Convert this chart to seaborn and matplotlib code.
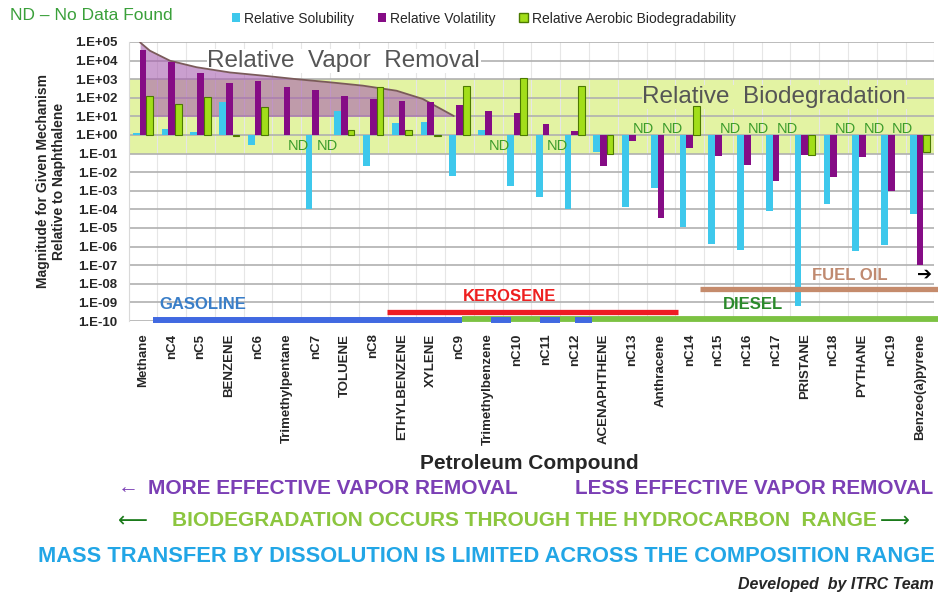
import numpy as np
import pandas as pd
import matplotlib
matplotlib.use("Agg")
import matplotlib.pyplot as plt
from matplotlib.patches import Patch
from matplotlib import font_manager
import seaborn as sns

# datos del grafico
compounds = ["Methane", "nC4", "nC5", "BENZENE", "nC6", "Trimethylpentane", "nC7",
             "TOLUENE", "nC8", "ETHYLBENZENE", "XYLENE", "nC9", "Trimethylbenzene",
             "nC10", "nC11", "nC12", "ACENAPHTHENE", "nC13", "Anthracene", "nC14",
             "nC15", "nC16", "nC17", "PRISTANE", "nC18", "PYTHANE", "nC19",
             "Benzeo(a)pyrene"]
solubility = [1.3, 2.1, 1.4, 62, 0.3, 1.0, 1.0e-4, 20, 0.022, 4.5, 5.0, 0.006,
              1.9, 0.0019, 4.5e-4, 1.1e-4, 0.12, 1.4e-4, 0.0015, 1.1e-5,
              1.4e-6, 6.5e-7, 8.5e-5, 6.5e-10, 1.9e-4, 5.6e-7, 1.2e-6, 5.6e-5]
volatility = [3.9e4, 8.1e3, 2.15e3, 600, 830, 365, 260, 130, 87, 70, 57, 41,
              19, 15, 3.9, 1.6, 0.022, 0.49, 3.4e-5, 0.2, 0.071, 0.025, 0.0035,
              0.084, 0.0057, 0.068, 9.3e-4, 1.0e-7]
nan = np.nan
biodegradability = [130, 46, 115, 0.87, 33, nan, nan, 1.9, 365, 1.9, 0.87, 415,
                    nan, 1120, nan, 415, 0.095, nan, nan, 35, nan, nan, nan,
                    0.084, nan, nan, nan, 0.117]
mechanisms = ["Relative Solubility", "Relative Volatility",
              "Relative Aerobic Biodegradability"]

# envolvente de remocion de vapor (posicion de categoria, magnitud)
vapor_env_pos = [-0.1, 0.24, 0.94, 1.86, 3.02, 4.17, 5.34, 6.5, 7.64, 8.81, 9.72, 10.8]
vapor_env = [9.5e4, 3.4e4, 9.8e3, 4.4e3, 2.3e3, 1.55e3, 1.0e3, 680, 450, 240, 87, 10.5]

# rangos de combustibles (en unidades de categoria)
gasoline_ranges = [(0.35, 11.1), (12.1, 12.8), (13.8, 14.5), (15.0, 15.6)]
kerosene_range = (8.47, 18.6)
diesel_range = (11.1, 27.75)
fuel_oil_range = (19.35, 27.75)

decades = list(range(-10, 6))

cyan, purple, green = "#3ec8ec", "#850c85", "#a2de1a"
band_color = "#e3f3a3"

sns.set_style("white")
available = {f.name for f in font_manager.fontManager.ttflist}
narrow = "Liberation Sans Narrow" if "Liberation Sans Narrow" in available else "Liberation Sans"
plt.rcParams["font.family"] = ["Liberation Sans", "DejaVu Sans"]

fig = plt.figure(figsize=(9.38, 5.99), dpi=100)
ax = fig.add_axes([0.1371, 0.4641, 0.859, 0.4658])

n = len(compounds)
df = pd.DataFrame({
    "compound": compounds * 3,
    "mechanism": np.repeat(mechanisms, n),
    "value": solubility + volatility + biodegradability,
})
df["log_value"] = np.log10(df["value"])

sns.barplot(data=df, x="compound", y="log_value", hue="mechanism", order=compounds,
            hue_order=mechanisms, palette=[cyan, purple, green], width=0.7,
            errorbar=None, saturation=1, legend=False, ax=ax)

for i, cont in enumerate(ax.containers):
    for bar in cont:
        bar.set_zorder(3)
        if i == 2:
            bar.set_edgecolor("#4c7a00")
            bar.set_linewidth(0.8)
        else:
            bar.set_linewidth(0)

ax.set_ylim(-10, 5)
ax.set_xlim(-0.5, n - 0.5)

# banda de biodegradacion
ax.axhspan(-1, 3, color=band_color, lw=0, zorder=0.3)

# poligono de remocion de vapor
env_log = np.log10(vapor_env)
ax.fill_between(vapor_env_pos, 1, env_log, color="#a860b0", alpha=0.6, lw=0, zorder=1)
ax.plot(vapor_env_pos, env_log, color="#7a5a5a", lw=1.3, zorder=1.1)

ax.text(6.98, 3.98, "Relative  Vapor  Removal", fontsize=17.5, color="#555555",
        ha="center", va="center", zorder=0.8,
        bbox=dict(facecolor="white", edgecolor="none", pad=0.5))
ax.text(21.94, 2.04, "Relative  Biodegradation", fontsize=17.5, color="#555555",
        ha="center", va="center", zorder=0.8,
        bbox=dict(facecolor=band_color, edgecolor="none", pad=0.5))

# ND
for i, (b, v) in enumerate(zip(biodegradability, volatility)):
    if np.isnan(b):
        y = -0.6 if v >= 1 else 0.3
        ax.text(i + 0.4, y, "ND", color="#3c9c2c", fontsize=10.5,
                ha="center", va="center", zorder=4)

# rangos de combustible
ax.hlines(-9.88, *diesel_range, color="#7cc242", lw=4.2, clip_on=False, zorder=4)
for a, b in gasoline_ranges:
    ax.hlines(-9.95, a, b, color="#4169e1", lw=4.3, clip_on=False, zorder=4.1)
ax.hlines(-9.5, *kerosene_range, color="#ee1c24", lw=3.8, zorder=4)
ax.hlines(-8.3, *fuel_oil_range, color="#c58b6c", lw=3.8, clip_on=False, zorder=4)
ax.text(2.08, -9.09, "GASOLINE", color="#3a7ec8", fontsize=12, weight="bold",
        ha="center", va="center")
ax.text(12.74, -8.66, "KEROSENE", color="#ee2020", fontsize=12, weight="bold",
        ha="center", va="center")
ax.text(21.2, -9.09, "DIESEL", color="#2b8a2b", fontsize=12, weight="bold",
        ha="center", va="center")
ax.text(24.55, -7.53, "FUEL OIL", color="#c08a70", fontsize=12, weight="bold",
        ha="center", va="center")
ax.text(27.15, -7.53, "\u2794", color="black", fontsize=13,
        ha="center", va="center", clip_on=False, family=["DejaVu Sans"])

# ejes
ax.set_yticks(decades)
ax.set_yticklabels([f"1.E{k:+03d}" for k in decades], fontsize=9.5, weight="bold")
ax.set_xticks(range(n))
ax.set_xticklabels(compounds, rotation=90, fontsize=9.5, weight="bold")
ax.set_xticks(np.arange(-0.5, n), minor=True)
ax.tick_params(axis="x", which="both", length=0, pad=9)
ax.tick_params(axis="y", length=3, width=1, color="#b4b4b4", pad=5)
ax.grid(axis="y", which="major", color="#b0b0b0", lw=1.2)
ax.grid(axis="x", which="minor", color="#e6e6e6", lw=0.8)
ax.set_axisbelow(True)
for s in ["top", "right", "bottom"]:
    ax.spines[s].set_visible(False)
ax.spines["left"].set_color("#d9d9d9")

ax.set_ylabel("Magnitude for Given Mechanism\nRelative to Naphthalene",
              fontsize=10, weight="bold")
ax.yaxis.set_label_coords(-0.078, 0.5)
ax.set_xlabel("Petroleum Compound", fontsize=15, weight="bold")
ax.xaxis.set_label_coords(0.497, -0.475)

# leyenda
handles = [Patch(facecolor=cyan, edgecolor="none"),
           Patch(facecolor=purple, edgecolor="none"),
           Patch(facecolor=green, edgecolor="#4c7a00")]
fig.legend(handles, mechanisms, loc="upper left", bbox_to_anchor=(226 / 938, 1 - 6 / 599),
           ncol=3, frameon=False, fontsize=10, handlelength=0.6, handleheight=0.6,
           handletextpad=0.3, columnspacing=1.7, borderaxespad=0)
fig.text(10 / 938, 1 - 15 / 599, "ND \u2013 No Data Found", color="#3aa03a",
         fontsize=12.5, va="center")

# textos inferiores
def fit_width(txt, width_px):
    r = fig.canvas.get_renderer()
    w = txt.get_window_extent(r).width
    txt.set_fontsize(txt.get_fontsize() * width_px / w)

vfam = [narrow, "DejaVu Sans"]
fig.text(118 / 938, 1 - 488 / 599, "\u2190", color="#7b3fb5", fontsize=15,
         weight="bold", va="center")
t = fig.text(148 / 938, 1 - 488 / 599, "MORE EFFECTIVE VAPOR REMOVAL", color="#7b3fb5",
             fontsize=16, weight="bold", va="center", family=vfam)
fit_width(t, 372)
t = fig.text(575 / 938, 1 - 488 / 599, "LESS EFFECTIVE VAPOR REMOVAL", color="#7b3fb5",
             fontsize=16, weight="bold", va="center", family=vfam)
fit_width(t, 358)
fig.text(118 / 938, 1 - 521 / 599, "\u27f5", color="#1a7a1a", fontsize=15,
         va="center", family=["DejaVu Sans"])
t = fig.text(172 / 938, 1 - 521 / 599,
             "BIODEGRADATION OCCURS THROUGH THE HYDROCARBON  RANGE",
             color="#8cc63f", fontsize=16, weight="bold", va="center", family=vfam)
fit_width(t, 706)
fig.text(880 / 938, 1 - 521 / 599, "\u27f6", color="#1a7a1a", fontsize=15,
         va="center", family=["DejaVu Sans"])
t = fig.text(38 / 938, 1 - 557 / 599,
             "MASS TRANSFER BY DISSOLUTION IS LIMITED ACROSS THE COMPOSITION RANGE",
             color="#22a6e6", fontsize=17, weight="bold", va="center", family=vfam)
fit_width(t, 896)
fig.text(934 / 938, 1 - 585 / 599, "Developed  by ITRC Team", fontsize=11.5,
         weight="bold", style="italic", ha="right", va="center")

fig.savefig("out.png", dpi=100)
